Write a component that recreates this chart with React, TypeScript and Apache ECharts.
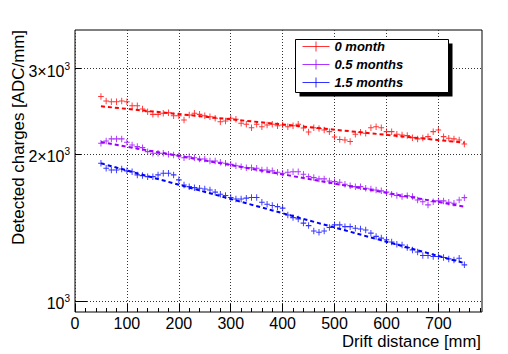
import React, { useEffect, useRef } from "react";
import * as echarts from "echarts";

const DISTANCE = [
  50, 60, 70, 80, 90, 100, 110, 120, 130, 140,
  150, 160, 170, 180, 190, 200, 210, 220, 230, 240,
  250, 260, 270, 280, 290, 300, 310, 320, 330, 340,
  350, 360, 370, 380, 390, 400, 410, 420, 430, 440,
  450, 460, 470, 480, 490, 500, 510, 520, 530, 540,
  550, 560, 570, 580, 590, 600, 610, 620, 630, 640,
  650, 660, 670, 680, 690, 700, 710, 720, 730, 740,
  750,
];

const MONTH_0 = [
  2630, 2575, 2566, 2566, 2575, 2566, 2518, 2518, 2479, 2448,
  2417, 2417, 2429, 2436, 2401, 2401, 2353, 2409, 2429, 2417,
  2401, 2390, 2372, 2334, 2342, 2372, 2361, 2317, 2306, 2269,
  2306, 2279, 2298, 2306, 2290, 2298, 2279, 2290, 2306, 2266,
  2223, 2269, 2260, 2245, 2227, 2172, 2146, 2141, 2126, 2199,
  2220, 2210, 2269, 2279, 2269, 2227, 2227, 2199, 2192, 2186,
  2165, 2152, 2162, 2175, 2227, 2245, 2175, 2159, 2152, 2141,
  2101,
];

const MONTH_05 = [
  2108, 2131, 2152, 2152, 2152, 2118, 2091, 2075, 2065, 2026,
  2011, 2011, 2011, 2001, 1994, 1987, 1969, 1978, 1969, 1957,
  1957, 1939, 1939, 1927, 1918, 1908, 1896, 1887, 1878, 1878,
  1873, 1858, 1858, 1850, 1838, 1830, 1838, 1843, 1843, 1821,
  1800, 1792, 1781, 1781, 1764, 1758, 1753, 1736, 1725, 1717,
  1717, 1704, 1698, 1690, 1683, 1673, 1657, 1646, 1638, 1644,
  1638, 1612, 1599, 1575, 1599, 1605, 1605, 1595, 1587, 1612,
  1630,
];

const MONTH_15 = [
  1918, 1873, 1858, 1858, 1867, 1850, 1843, 1815, 1809, 1800,
  1800, 1815, 1830, 1830, 1815, 1773, 1731, 1717, 1709, 1704,
  1698, 1690, 1673, 1657, 1646, 1631, 1620, 1620, 1626, 1631,
  1631, 1595, 1580, 1570, 1562, 1551, 1501, 1483, 1474, 1445,
  1428, 1392, 1384, 1392, 1415, 1433, 1433, 1421, 1421, 1410,
  1405, 1399, 1378, 1357, 1346, 1336, 1321, 1308, 1303, 1287,
  1273, 1260, 1240, 1240, 1234, 1234, 1228, 1220, 1214, 1224,
  1186,
];

const FIT_X = [50, 750];
const FIT_0 = [2511, 2114];
const FIT_05 = [2120, 1562];
const FIT_15 = [1917, 1196];

const SERIES_NAMES = ["0 month", "0.5 months", "1.5 months"];
const COLORS = ["#ff0000", "#9900ff", "#0000ff"];

const X_MAJOR_TICKS = [0, 100, 200, 300, 400, 500, 600, 700];
const X_MINOR_TICKS = [
  20, 40, 60, 80, 120, 140, 160, 180, 220, 240, 260, 280, 320, 340, 360, 380,
  420, 440, 460, 480, 520, 540, 560, 580, 620, 640, 660, 680, 720, 740, 760, 780,
];
const Y_MAJOR_TICKS = [1000];
const Y_MID_TICKS = [2000, 3000];
const Y_LABEL_VALUES = [1000, 2000, 3000];

const X_MIN = 0;
const X_MAX = 784;
const Y_MIN = 949;
const Y_MAX = 3602;

const FONT = "'Liberation Sans', Arial, Helvetica, sans-serif";
const CROSS = "path://M0,5L10,5M5,0L5,10";

export default function App() {
  const ref = useRef<HTMLDivElement>(null);

  useEffect(() => {
    if (!ref.current) return;
    const chart = echarts.init(ref.current, null, { renderer: "svg" });

    const points = [MONTH_0, MONTH_05, MONTH_15];
    const fits = [FIT_0, FIT_05, FIT_15];

    const series: any[] = [];
    points.forEach((vals, i) => {
      series.push({
        name: SERIES_NAMES[i],
        type: "scatter",
        xAxisIndex: 0,
        yAxisIndex: 0,
        data: DISTANCE.map((x, j) => [x, vals[j]]),
        symbol: CROSS,
        symbolSize: [5.6, 6.5],
        itemStyle: { color: COLORS[i], borderColor: COLORS[i], borderWidth: 1 },
        z: 3,
      });
      series.push({
        name: "fit " + SERIES_NAMES[i],
        type: "line",
        xAxisIndex: 0,
        yAxisIndex: 0,
        data: FIT_X.map((x, j) => [x, fits[i][j]]),
        symbol: "none",
        showSymbol: false,
        lineStyle: { color: COLORS[i], width: 2, type: [4, 3] },
        z: 2,
      });
    });

    const gridLine = { show: true, lineStyle: { color: "#333", width: 1, type: [1, 2] } };

    chart.setOption({
      animation: false,
      backgroundColor: "#ffffff",
      grid: {
        left: 75,
        top: 30,
        width: 407,
        height: 282,
        show: true,
        borderColor: "#000",
        borderWidth: 1,
        backgroundColor: "transparent",
        containLabel: false,
      },
      xAxis: [
        {
          type: "value",
          min: X_MIN,
          max: X_MAX,
          position: "bottom",
          axisLine: { show: false, onZero: false },
          axisTick: {
            show: true,
            inside: true,
            length: 8,
            customValues: X_MAJOR_TICKS,
            lineStyle: { color: "#000", width: 1 },
          },
          axisLabel: {
            show: true,
            customValues: X_MAJOR_TICKS,
            margin: 3,
            color: "#000",
            fontFamily: FONT,
            fontSize: 16,
          },
          splitLine: gridLine,
        },
        {
          type: "value",
          min: X_MIN,
          max: X_MAX,
          position: "bottom",
          axisLine: { show: false, onZero: false },
          axisTick: {
            show: true,
            inside: true,
            length: 4,
            customValues: X_MINOR_TICKS,
            lineStyle: { color: "#000", width: 1 },
          },
          axisLabel: { show: false },
          splitLine: { show: false },
        },
      ],
      yAxis: [
        {
          type: "log",
          logBase: 10,
          min: Y_MIN,
          max: Y_MAX,
          position: "left",
          axisLine: { show: false, onZero: false },
          axisTick: {
            show: true,
            inside: true,
            length: 12,
            customValues: Y_MAJOR_TICKS,
            lineStyle: { color: "#000", width: 1 },
          },
          axisLabel: {
            show: true,
            customValues: Y_LABEL_VALUES,
            margin: 5,
            padding: [5, 0, 0, 0],
            formatter: (v: number) => {
              const r = Math.round(v);
              if (r === 1000) return "{b|10}{s|3}";
              return "{b|" + Math.round(r / 1000) + "×10}{s|3}";
            },
            rich: {
              b: { fontFamily: FONT, fontSize: 16, lineHeight: 20, color: "#000", verticalAlign: "middle" },
              s: { fontFamily: FONT, fontSize: 10, lineHeight: 20, color: "#000", verticalAlign: "top" },
            },
          },
          splitLine: gridLine,
        },
        {
          type: "log",
          logBase: 10,
          min: Y_MIN,
          max: Y_MAX,
          position: "left",
          axisLine: { show: false, onZero: false },
          axisTick: {
            show: true,
            inside: true,
            length: 6,
            customValues: Y_MID_TICKS,
            lineStyle: { color: "#000", width: 1 },
          },
          axisLabel: { show: false },
          splitLine: gridLine,
        },
      ],
      legend: {
        show: true,
        orient: "vertical",
        left: 296,
        top: 39,
        padding: [1, 0, 0, 6],
        itemWidth: 27,
        itemHeight: 10,
        itemGap: 5,
        icon: "path://M0,5L27,5M13.5,0L13.5,10",
        selectedMode: false,
        data: SERIES_NAMES,
        itemStyle: { borderWidth: 1, borderColor: "inherit" },
        textStyle: {
          color: "#000",
          fontFamily: FONT,
          fontSize: 13,
          fontWeight: "bold",
          fontStyle: "italic",
        },
        z: 10,
      },
      graphic: [
        {
          type: "rect",
          shape: { x: 299.5, y: 43.5, width: 153, height: 53 },
          style: { fill: "#000" },
          z: 5,
        },
        {
          type: "rect",
          shape: { x: 295.5, y: 39.5, width: 153, height: 53 },
          style: { fill: "#fff", stroke: "#000", lineWidth: 1 },
          z: 6,
        },
        {
          type: "text",
          x: 481,
          y: 341,
          style: {
            text: "Drift distance [mm]",
            align: "right",
            verticalAlign: "middle",
            fill: "#000",
            fontFamily: FONT,
            fontSize: 16.7,
          },
          z: 6,
        },
        {
          type: "text",
          x: 18.5,
          y: 30,
          rotation: Math.PI / 2,
          style: {
            text: "Detected charges [ADC/mm]",
            align: "right",
            verticalAlign: "middle",
            fill: "#000",
            fontFamily: FONT,
            fontSize: 16.9,
          },
          z: 6,
        },
      ],
      series,
    });

    return () => {
      chart.dispose();
    };
  }, []);

  return (
    <div
      ref={ref}
      style={{ position: "fixed", left: 0, top: 0, width: 508, height: 354, background: "#fff" }}
    />
  );
}
